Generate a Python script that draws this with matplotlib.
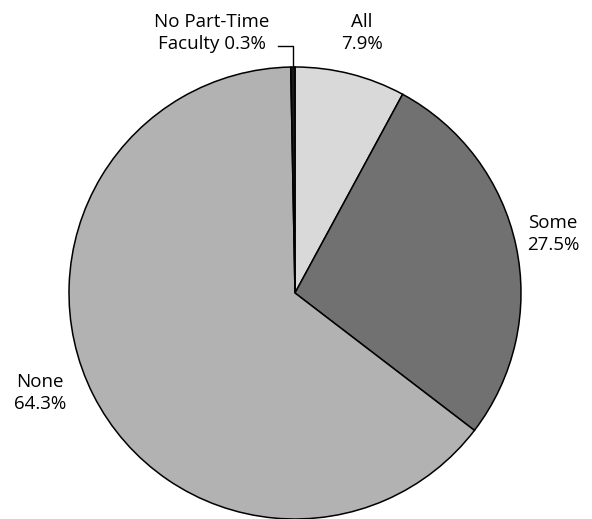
import numpy as np
import matplotlib.pyplot as plt

plt.rcParams['font.family'] = ['Open Sans', 'DejaVu Sans']

labels = ['All', 'Some', 'None', 'No Part-Time\nFaculty']
shares = [7.9, 27.5, 64.3, 0.3]
colors = ['#d9d9d9', '#717171', '#b2b2b2', '#1a1a1a']

W, H = 592, 519
fig = plt.figure(figsize=(W / 100, H / 100), dpi=100)
ax = fig.add_axes([0, 0, 1, 1])

cx, cy, r = 295, H - 293, 226
ax.pie(shares, colors=colors, startangle=90, counterclock=False,
       center=(cx, cy), radius=r, frame=True,
       wedgeprops=dict(edgecolor='black', linewidth=1.1))
ax.set_xlim(0, W)
ax.set_ylim(0, H)
ax.set_aspect('equal')
ax.axis('off')

fs = 13.5
txt = [f'{l} {v}%' if 'Faculty' in l else f'{l}\n{v}%' for l, v in zip(labels, shares)]
ax.text(362, H - 33, txt[0], ha='center', va='center', fontsize=fs, linespacing=1.3)
ax.text(553, H - 234, txt[1], ha='center', va='center', fontsize=fs, linespacing=1.3)
ax.text(40, H - 393, txt[2], ha='center', va='center', fontsize=fs, linespacing=1.3)
ax.text(212, H - 33, txt[3], ha='center', va='center', fontsize=fs, linespacing=1.3)

# leader line to the thin black slice
ang = np.deg2rad(90 - 360 * (sum(shares[:3]) + shares[3] / 2) / 100)
ex, ey = cx + r * np.cos(ang), cy + r * np.sin(ang)
ax.plot([278, ex, ex], [H - 46, H - 46, ey], color='black', lw=1)

fig.savefig('out.png', dpi=100)
